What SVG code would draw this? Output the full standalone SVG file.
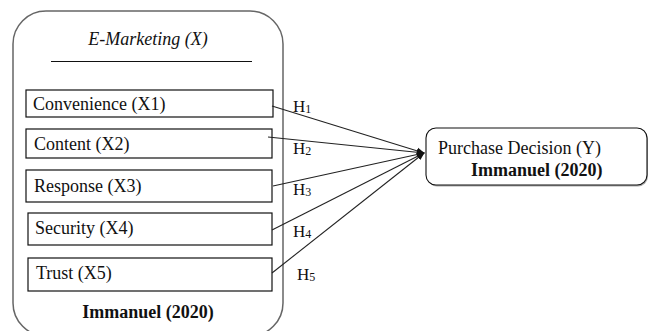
<svg xmlns="http://www.w3.org/2000/svg" width="649" height="331" viewBox="0 0 649 331">
<defs>
<style>
.t{font-family:"Liberation Serif","Times New Roman",serif;font-size:18px;fill:#111}
.b{font-weight:bold}
.h{font-family:"Liberation Serif","Times New Roman",serif;font-size:17px;fill:#111}
.s{font-size:12px}
.box{fill:#fff;stroke:#111;stroke-width:1.2}
.con{stroke:#222;stroke-width:1.1;fill:none;marker-end:url(#ah)}
</style>
<marker id="ah" viewBox="0 0 10 10" refX="9" refY="5" markerWidth="8" markerHeight="8" orient="auto" markerUnits="userSpaceOnUse">
<path d="M0,1 L10,5 L0,9 z" fill="#111"/>
</marker>
</defs>
<rect width="649" height="331" fill="#fff"/>
<g id="emarketing">
<rect x="13" y="11" width="270" height="325" rx="33" ry="33" fill="#fff" stroke="#666" stroke-width="1.5"/>
<text class="t" x="148" y="45" text-anchor="middle" font-style="italic">E-Marketing (X)</text>
<line x1="51" y1="61.5" x2="252" y2="61.5" stroke="#111" stroke-width="1.2"/>
<text class="t b" x="148" y="318" text-anchor="middle">Immanuel (2020)</text>
</g>
<g id="x1"><rect class="box" x="26" y="90" width="247" height="27"/><text class="t" x="33" y="110">Convenience (X1)</text></g>
<g id="x2"><rect class="box" x="26" y="129" width="246" height="29"/><text class="t" x="34" y="150">Content (X2)</text></g>
<g id="x3"><rect class="box" x="26" y="170" width="246" height="32"/><text class="t" x="34" y="192">Response (X3)</text></g>
<g id="x4"><rect class="box" x="28" y="213" width="244" height="32"/><text class="t" x="35" y="234">Security (X4)</text></g>
<g id="x5"><rect class="box" x="28" y="258" width="244" height="33"/><text class="t" x="36" y="279">Trust (X5)</text></g>
<g id="y">
<rect x="427" y="129.5" width="221" height="57" rx="10" ry="10" fill="#aaa"/>
<rect x="426" y="128" width="221" height="57" rx="10" ry="10" fill="#fff" stroke="#111" stroke-width="1.1"/>
<text class="t" x="438" y="154">Purchase Decision (Y)</text>
<text class="t b" x="471" y="176">Immanuel (2020)</text>
</g>
<g id="connectors">
<line class="con" x1="272" y1="106" x2="424" y2="153"/>
<line class="con" x1="268" y1="137" x2="424" y2="153"/>
<line class="con" x1="273" y1="186" x2="424" y2="153"/>
<line class="con" x1="272" y1="230" x2="424" y2="153"/>
<line class="con" x1="272" y1="273" x2="424" y2="153"/>
<text class="h" x="293" y="112">H<tspan class="s" dy="1">1</tspan></text>
<text class="h" x="293" y="154">H<tspan class="s" dy="1">2</tspan></text>
<text class="h" x="293" y="195">H<tspan class="s" dy="1">3</tspan></text>
<text class="h" x="293" y="237">H<tspan class="s" dy="1">4</tspan></text>
<text class="h" x="297" y="280">H<tspan class="s" dy="1">5</tspan></text>
</g>
</svg>
